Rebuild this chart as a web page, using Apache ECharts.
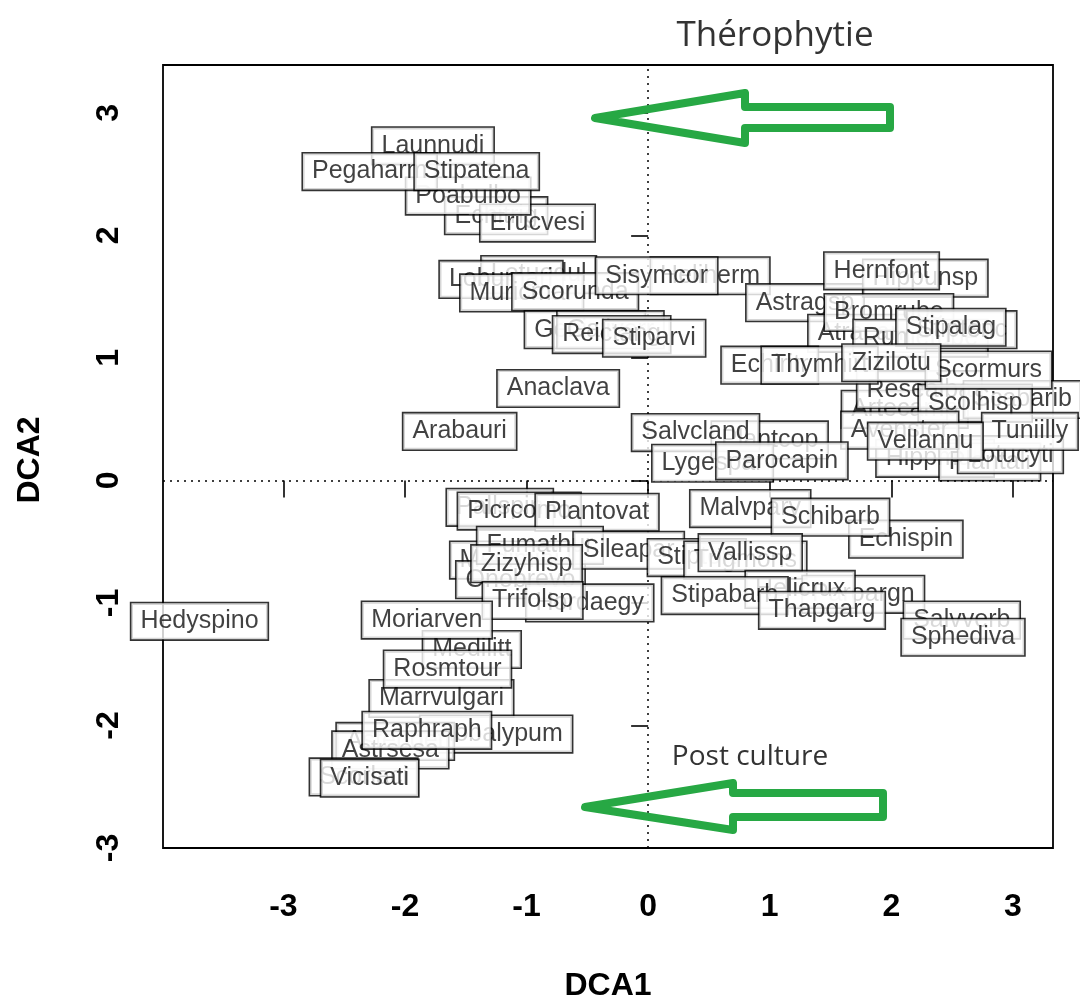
<!DOCTYPE html>
<html>
<head>
<meta charset="utf-8">
<script src="https://cdn.jsdelivr.net/npm/echarts@6/dist/echarts.min.js"></script>
<style>
  html, body { margin: 0; padding: 0; background: #fff; }
  #chart { width: 1080px; height: 999px; }
</style>
</head>
<body>
<div id="chart"></div>
<script>
// species labels, back to front (last drawn sits on top)
const species = [
  'Launnudi', 'Echitrig', 'Erucvesi', 'Poabulbo', 'Pegaharm', 'Stipatena',
  'Lotuedul', 'Lobumari', 'Muricmar', 'Heliherm', 'Scorunda', 'Sisymcor',
  'Genisper', 'Galiverr', 'Reictang', 'Stiparvi', 'Anaclava', 'Arabauri',
  'Astragsp', 'Hippunsp', 'Hernfont', 'Atracanc', 'Bromrube', 'Rumetube',
  'Stiptenc', 'Stipalag', 'Artecamp', 'Resealba', 'Scabarib', 'Scolhisp',
  'Echiritr', 'Thymhirt', 'Scormurs', 'Zizilotu',
  'Hippmult', 'Plantali', 'Lotucyti', 'Avenster', 'Tuniilly', 'Vellannu',
  'Plantcop', 'Salvcland', 'Lygespar', 'Parocapin',
  'Pallspin', 'Picrcomo', 'Plantovat', 'Malvparv', 'Echispin', 'Schibarb',
  'Medimini', 'Onobrevo', 'Fumathur', 'Sileapar', 'Stiptort', 'Trigmons',
  'Vallissp', 'Zizyhisp', 'Hordaegy', 'Trifolsp', 'Paroargn', 'Helicrux',
  'Stipabarb', 'Thapgarg', 'Salvverb', 'Sphediva',
  'Hedyspino', 'Medilitt', 'Moriarven', 'Marrvulgari', 'Rosmtour', 'Globalypum',
  'Asteboet', 'Astrsesa', 'Raphraph', 'Scorlaci', 'Vicisati'
];
const dca1 = [
  -1.77, -1.25, -0.91, -1.48, -2.29, -1.41,
  -0.90, -1.21, -1.04, 0.51, -0.60, 0.07,
  -0.52, -0.31, -0.30, 0.05, -0.74, -1.55,
  1.29, 2.28, 1.92, 1.80, 1.98, 2.24,
  2.58, 2.49, 2.11, 2.23, 3.08, 2.69,
  1.00, 1.41, 2.80, 2.00,
  2.36, 2.81, 2.98, 2.07, 3.14, 2.28,
  1.00, 0.39, 0.53, 1.10,
  -1.22, -1.06, -0.42, 0.84, 2.12, 1.50,
  -1.14, -1.05, -0.89, -0.16, 0.40, 0.80,
  0.84, -1.00, -0.48, -0.95, 1.77, 1.25,
  0.63, 1.43, 2.58, 2.59,
  -3.69, -1.45, -1.82, -1.70, -1.65, -1.25,
  -2.08, -2.12, -1.82, -2.34, -2.29
];
const dca2 = [
  2.73, 2.16, 2.10, 2.32, 2.52, 2.52,
  1.68, 1.64, 1.53, 1.67, 1.54, 1.67,
  1.23, 1.23, 1.19, 1.16, 0.75, 0.40,
  1.45, 1.65, 1.71, 1.20, 1.37, 1.16,
  1.23, 1.25, 0.58, 0.74, 0.66, 0.63,
  0.94, 0.94, 0.90, 0.96,
  0.18, 0.15, 0.21, 0.41, 0.40, 0.32,
  0.33, 0.39, 0.14, 0.16,
  -0.22, -0.25, -0.26, -0.23, -0.48, -0.30,
  -0.65, -0.81, -0.53, -0.57, -0.63, -0.65,
  -0.59, -0.68, -1.00, -0.98, -0.93, -0.89,
  -0.94, -1.06, -1.14, -1.28,
  -1.15, -1.38, -1.14, -1.78, -1.54, -2.07,
  -2.13, -2.20, -2.04, -2.42, -2.43
];
const axisTicks = [-3, -2, -1, 0, 1, 2, 3];

const labelStyle = {
  show: true, position: 'inside',
  formatter: p => p.name,
  fontFamily: 'Liberation Sans', fontSize: 25, lineHeight: 28, color: '#111',
  backgroundColor: '#fff', borderColor: '#000', borderWidth: 1.6,
  padding: [4, 9]
};

// one series per label so every box fully covers the ones under it
const labelSeries = species.map((s, i) => ({
  type: 'scatter', z: 3 + i, silent: true,
  symbolSize: 1,
  itemStyle: { color: 'rgba(0,0,0,0)' },
  data: [{ name: s, value: [dca1[i], dca2[i]] }],
  label: labelStyle
}));

const arrowGreen = '#27a844';
const chart = echarts.init(document.getElementById('chart'));
chart.setOption({
  animation: false,
  backgroundColor: '#fff',
  grid: {
    left: 163, right: 27, top: 65, bottom: 151,
    show: true, borderColor: '#000', borderWidth: 1.8, backgroundColor: 'transparent'
  },
  xAxis: {
    type: 'value', min: -3.99, max: 3.33,
    axisLine: { show: false },
    splitLine: { show: false },
    axisTick: { show: true, length: 17, customValues: axisTicks, lineStyle: { color: '#000', width: 1.6 } },
    axisLabel: {
      customValues: axisTicks, margin: 43,
      fontFamily: 'Liberation Sans', fontWeight: 'bold', fontSize: 32, color: '#000',
      formatter: v => String(v)
    }
  },
  yAxis: {
    type: 'value', min: -3, max: 3.39,
    axisLine: { show: false },
    splitLine: { show: false },
    axisTick: { show: true, length: 17, customValues: axisTicks, lineStyle: { color: '#000', width: 1.6 } },
    axisLabel: {
      customValues: axisTicks, margin: 38, rotate: 90,
      fontFamily: 'Liberation Sans', fontWeight: 'bold', fontSize: 32, color: '#000',
      formatter: v => String(v)
    }
  },
  series: [
    {
      type: 'line', data: [], z: 1, silent: true,
      markLine: {
        silent: true, symbol: 'none', label: { show: false },
        lineStyle: { type: [2, 5], color: '#000', width: 1.5 },
        data: [{ xAxis: 0 }, { yAxis: 0 }]
      }
    }
  ].concat(labelSeries),
  graphic: [
    {
      type: 'text', x: 775, y: 36, z: 200,
      style: { text: 'Thérophytie', fontFamily: 'Open Sans', fontSize: 35, fill: '#333', align: 'center', verticalAlign: 'middle' }
    },
    {
      type: 'text', x: 750, y: 757, z: 200,
      style: { text: 'Post culture', fontFamily: 'Open Sans', fontSize: 28, fill: '#333', align: 'center', verticalAlign: 'middle' }
    },
    {
      type: 'text', x: 608, y: 986, z: 200,
      style: { text: 'DCA1', fontFamily: 'Liberation Sans', fontWeight: 'bold', fontSize: 32, fill: '#000', align: 'center', verticalAlign: 'middle' }
    },
    {
      type: 'text', x: 30, y: 460, z: 200, rotation: Math.PI / 2,
      style: { text: 'DCA2', fontFamily: 'Liberation Sans', fontWeight: 'bold', fontSize: 32, fill: '#000', align: 'center', verticalAlign: 'middle' }
    },
    {
      type: 'polygon', z: 200,
      shape: { points: [[595, 118], [745, 93], [745, 107], [890, 107], [890, 128], [745, 128], [745, 143]] },
      style: { fill: 'none', stroke: arrowGreen, lineWidth: 8, lineJoin: 'round' }
    },
    {
      type: 'polygon', z: 200,
      shape: { points: [[585, 807], [733, 783], [733, 793], [883, 793], [883, 817], [733, 817], [733, 830]] },
      style: { fill: 'none', stroke: arrowGreen, lineWidth: 8, lineJoin: 'round' }
    }
  ]
});
</script>
</body>
</html>
